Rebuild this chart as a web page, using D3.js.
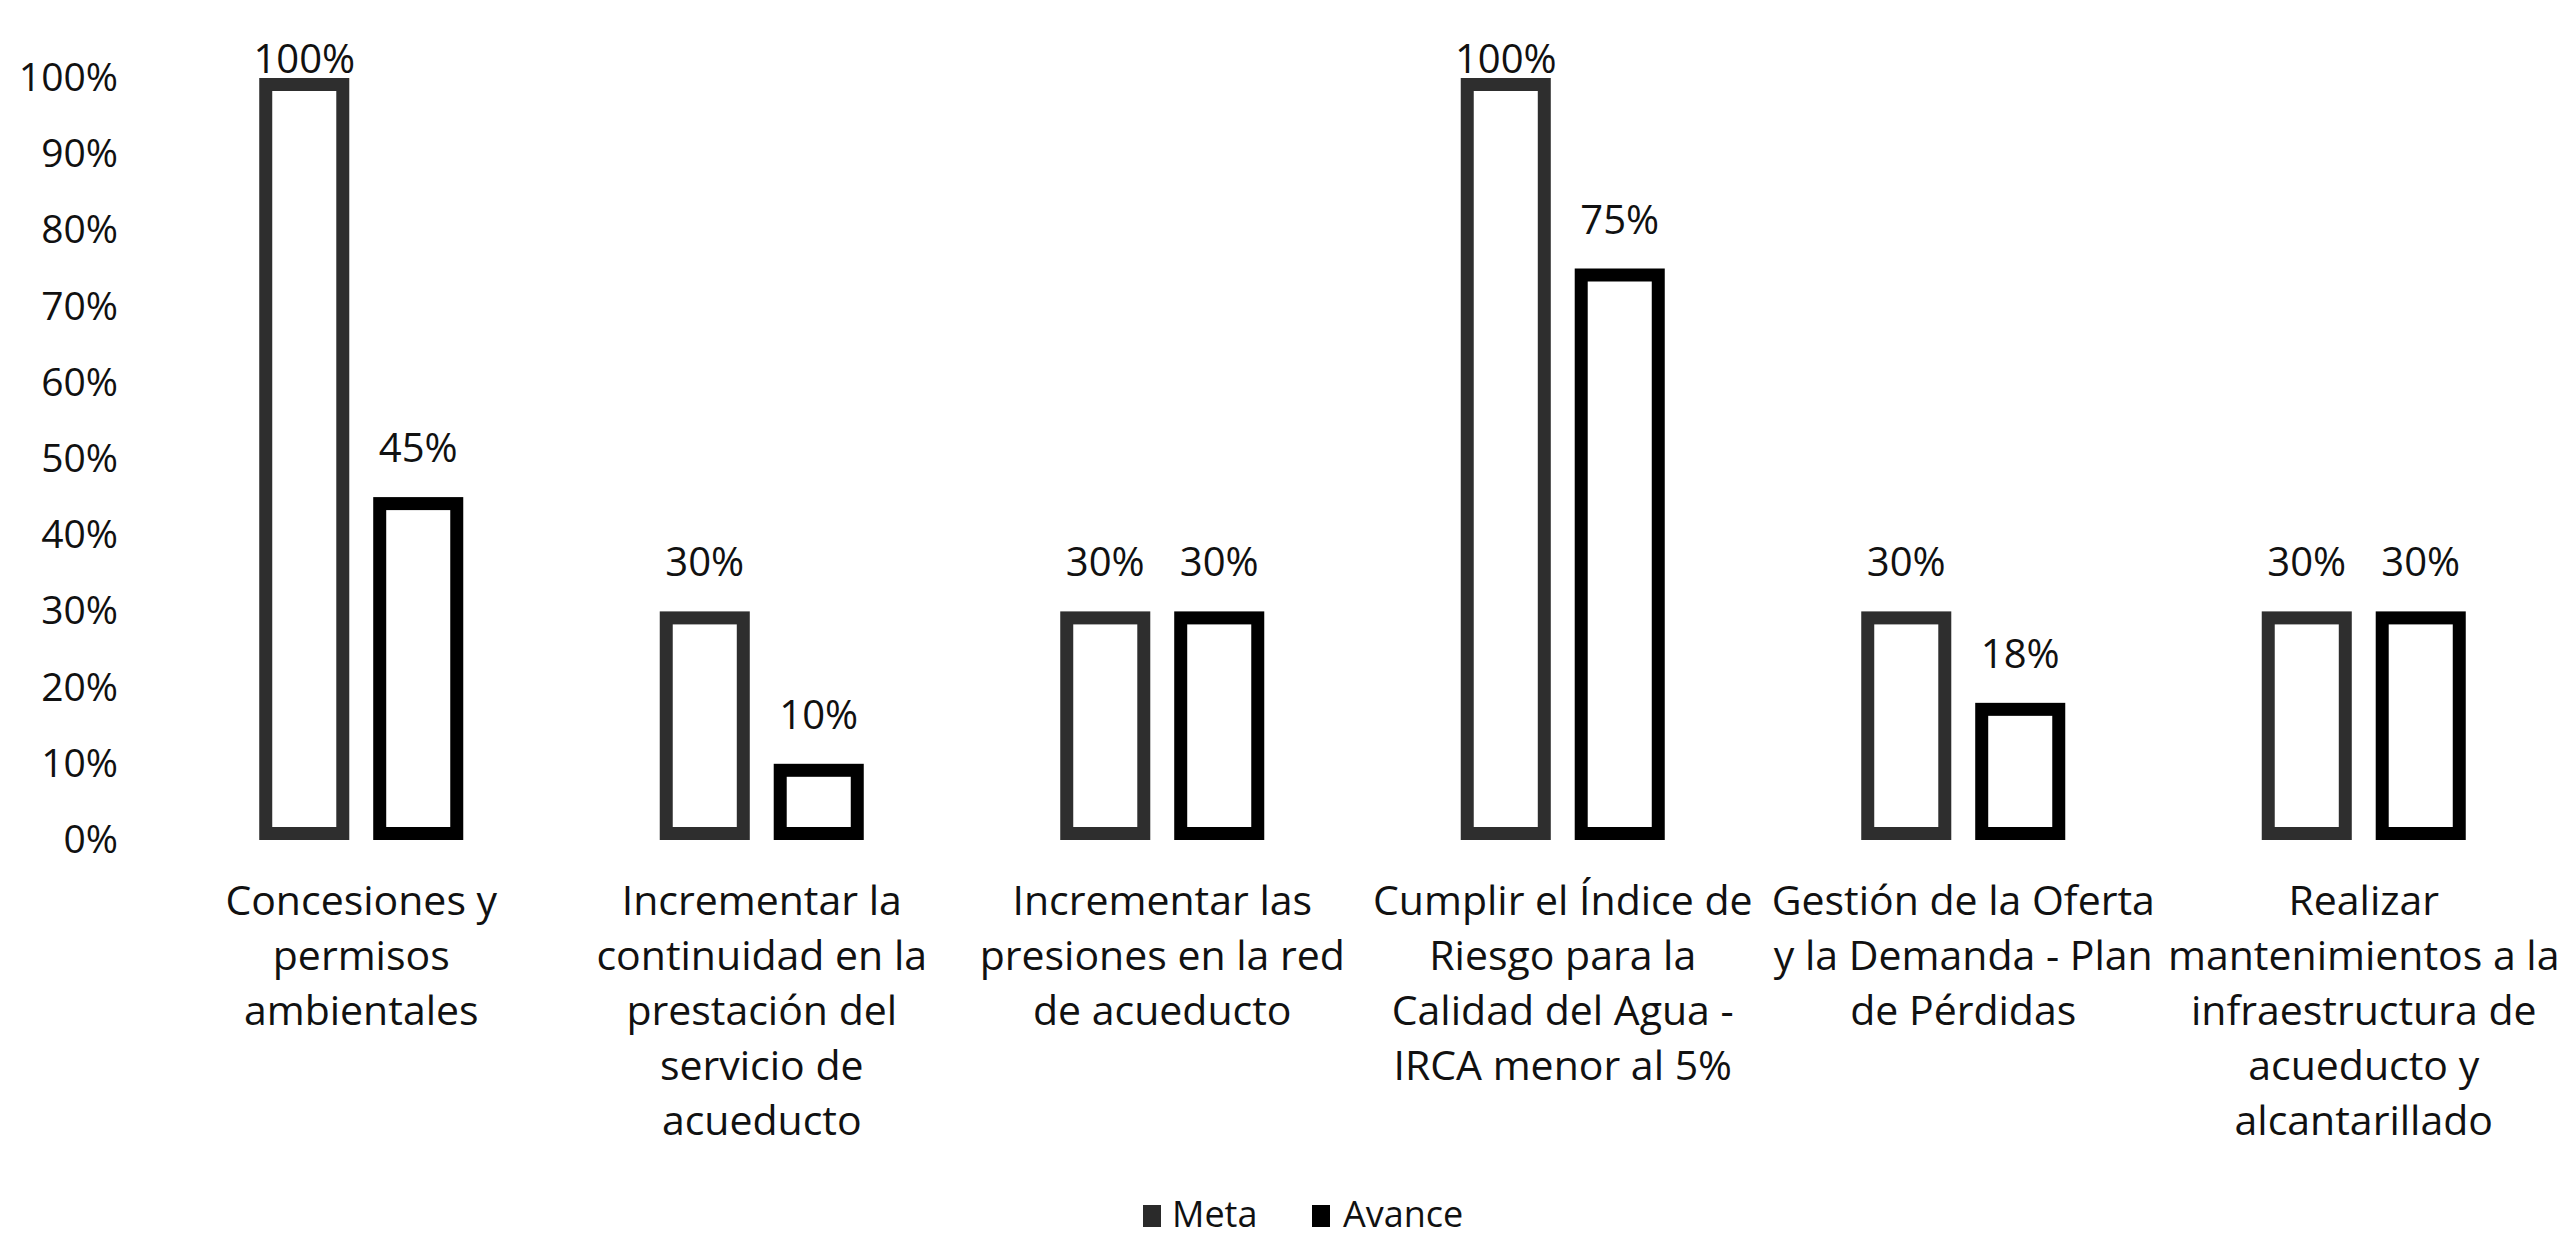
<!DOCTYPE html>
<html>
<head>
<meta charset="utf-8">
<script src="https://cdn.jsdelivr.net/npm/d3@7"></script>
<style>
  html, body { margin: 0; padding: 0; background: #fff; }
  svg { display: block; }
  text { font-family: "Open Sans", sans-serif; fill: #111; }
</style>
</head>
<body>
<svg id="chart" width="2574" height="1241"></svg>
<script>
// ---- data ----
const categories = [
  "Concesiones y\npermisos\nambientales",
  "Incrementar la\ncontinuidad en la\nprestación del\nservicio de\nacueducto",
  "Incrementar las\npresiones en la red\nde acueducto",
  "Cumplir el Índice de\nRiesgo para la\nCalidad del Agua -\nIRCA menor al 5%",
  "Gestión de la Oferta\ny la Demanda - Plan\nde Pérdidas",
  "Realizar\nmantenimientos a la\ninfraestructura de\nacueducto y\nalcantarillado"
];
const seriesNames = ["Meta", "Avance"];
const metaValues = [1.00, 0.30, 0.30, 1.00, 0.30, 0.30];
const avanceValues = [0.45, 0.10, 0.30, 0.75, 0.18, 0.30];
const yTicks = [0, 0.1, 0.2, 0.3, 0.4, 0.5, 0.6, 0.7, 0.8, 0.9, 1.0];

// ---- styles ----
const strokeColors = { Meta: "#2e2e2e", Avance: "#000000" };
const legendColors = { Meta: "#2a2a2a", Avance: "#000000" };
const strokeW = 13;

const svg = d3.select("#chart");

const x0 = d3.scaleBand()
  .domain(d3.range(categories.length))
  .range([161, 2564])
  .paddingInner(0.4906)
  .paddingOuter(0.2453);

const x1 = d3.scaleBand()
  .domain(seriesNames)
  .range([0, x0.bandwidth()])
  .paddingInner(0.21)
  .paddingOuter(0);

const y = d3.scaleLinear().domain([0, 1]).range([840, 78]);

// y axis (labels only)
const yAxis = d3.axisLeft(y)
  .tickValues(yTicks)
  .tickFormat(d3.format(".0%"))
  .tickSize(0)
  .tickPadding(0);

const yg = svg.append("g")
  .attr("transform", "translate(118,0)")
  .call(yAxis);
yg.select(".domain").remove();
yg.selectAll("text")
  .style("font-family", "'Open Sans', sans-serif")
  .style("font-size", "39px")
  .attr("fill", "#111");

// data rows
const rows = categories.map((c, i) => ({
  i, cat: c,
  vals: [
    { s: "Meta", v: metaValues[i] },
    { s: "Avance", v: avanceValues[i] }
  ]
}));

const groups = svg.append("g").selectAll("g.grp")
  .data(rows)
  .join("g")
  .attr("class", "grp")
  .attr("transform", d => `translate(${x0(d.i)},0)`);

groups.selectAll("rect")
  .data(d => d.vals)
  .join("rect")
  .attr("x", d => x1(d.s) + strokeW / 2)
  .attr("y", d => y(d.v) + strokeW / 2)
  .attr("width", x1.bandwidth() - strokeW)
  .attr("height", d => y(0) - y(d.v) - strokeW)
  .attr("fill", "#fff")
  .attr("stroke", d => strokeColors[d.s])
  .attr("stroke-width", strokeW);

groups.selectAll("text.val")
  .data(d => d.vals)
  .join("text")
  .attr("class", "val")
  .attr("x", d => x1(d.s) + x1.bandwidth() / 2)
  .attr("y", d => Math.max(y(d.v) - 35, y(1) - 5))
  .attr("text-anchor", "middle")
  .style("font-size", "40px")
  .text(d => d3.format(".0%")(d.v));

// category labels
const catG = svg.append("g").selectAll("text.cat")
  .data(rows)
  .join("text")
  .attr("class", "cat")
  .attr("x", d => x0(d.i) + x0.bandwidth() / 2)
  .attr("y", 915)
  .attr("text-anchor", "middle")
  .style("font-size", "41px");

catG.selectAll("tspan")
  .data(d => d.cat.split("\n").map((t, k) => ({ t, k, x: x0(d.i) + x0.bandwidth() / 2 })))
  .join("tspan")
  .attr("x", d => d.x)
  .attr("y", d => 915 + d.k * 55)
  .text(d => d.t);

// legend
const legendItems = [
  { s: "Meta", sx: 1143, tx: 1172 },
  { s: "Avance", sx: 1312, tx: 1343 }
];
const lg = svg.append("g").selectAll("g.leg")
  .data(legendItems)
  .join("g")
  .attr("class", "leg");
lg.append("rect")
  .attr("x", d => d.sx)
  .attr("y", 1205)
  .attr("width", 18)
  .attr("height", 22)
  .attr("fill", d => legendColors[d.s]);
lg.append("text")
  .attr("x", d => d.tx)
  .attr("y", 1227)
  .style("font-size", "36px")
  .text(d => d.s);
</script>
</body>
</html>
